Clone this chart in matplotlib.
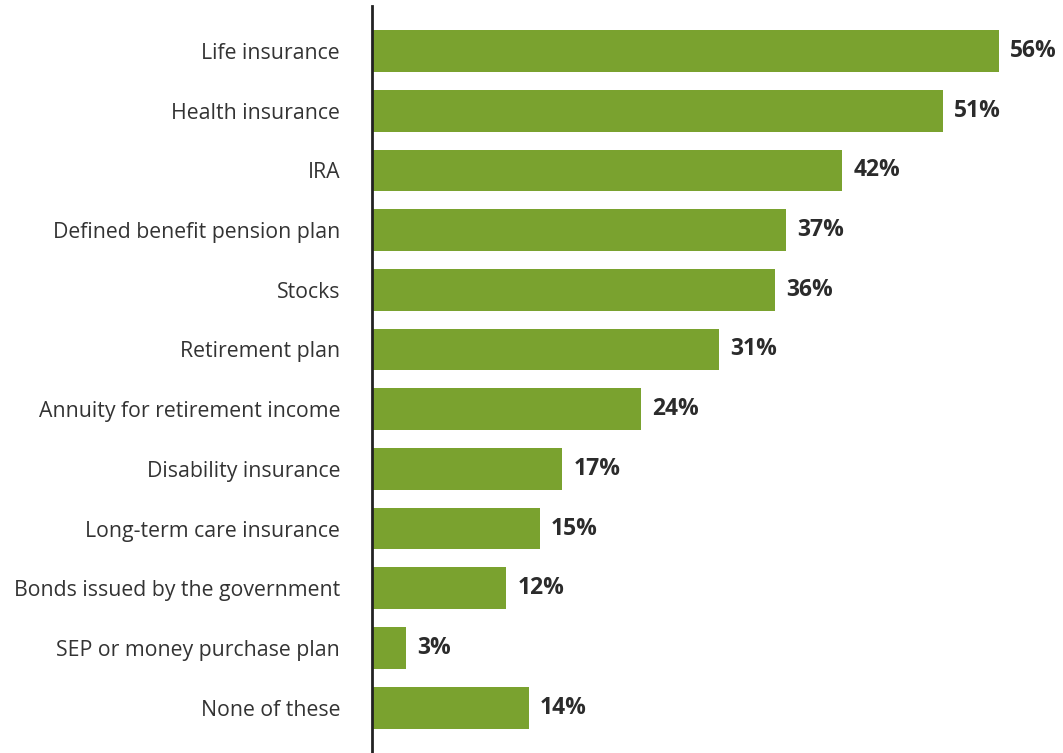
import matplotlib
matplotlib.use("Agg")
import matplotlib.pyplot as plt

categories = ["Life insurance", "Health insurance", "IRA",
              "Defined benefit pension plan", "Stocks", "Retirement plan",
              "Annuity for retirement income", "Disability insurance",
              "Long-term care insurance", "Bonds issued by the government",
              "SEP or money purchase plan", "None of these"]
values = [56, 51, 42, 37, 36, 31, 24, 17, 15, 12, 3, 14]

plt.rcParams['font.family'] = ['Open Sans', 'DejaVu Sans']

fig = plt.figure(figsize=(10.63, 7.53), dpi=100)
ax = fig.add_axes([372 / 1063, 0, 1 - 372 / 1063, 747 / 753])

pos = list(range(len(categories)))
ax.barh(pos, values, height=0.70, color="#7aa22f")
ax.set_ylim(11.76, -0.754)
ax.set_xlim(0, 61.7)

for p, v in zip(pos, values):
    ax.annotate(f"{v}%", (v, p), xytext=(8, 0), textcoords="offset points",
                va="center", ha="left", fontsize=16.5, fontweight="bold",
                color="#2b2b2b")

ax.set_yticks(pos)
ax.set_yticklabels(categories, fontsize=15.3, color="#333333")
for lbl in ax.get_yticklabels():
    lbl.set_va("center_baseline")
ax.tick_params(axis="y", length=0, pad=23)
ax.set_xticks([])
for s in ["top", "right", "bottom"]:
    ax.spines[s].set_visible(False)
ax.spines["left"].set_linewidth(2)
ax.spines["left"].set_color("#222222")

fig.savefig("out.png", dpi=100)
